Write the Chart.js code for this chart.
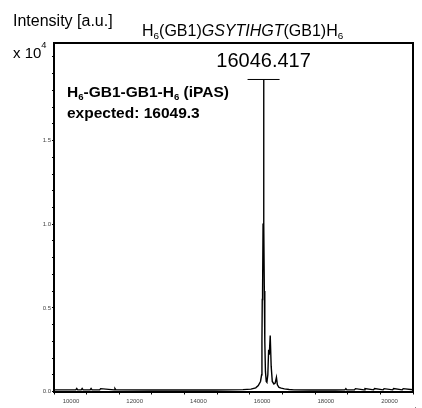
<!DOCTYPE html>
<html>
<head>
<meta charset="utf-8">
<script src="https://cdn.jsdelivr.net/npm/chart.js@4"></script>
<style>
  html, body { margin: 0; padding: 0; background: #fff; }
  #wrap { width: 422px; height: 408px; position: relative; }
</style>
</head>
<body>
<div id="wrap"><canvas id="spectrum"></canvas></div>
<script>
// MALDI spectrum, intensity in units of 10^4
const massValues = [
  9466, 9800, 10000, 10150, 10180, 10210, 10320, 10350, 10380, 10600, 10630, 10660,
  10900, 10930, 11350, 11380, 11410, 12500, 13500, 14500, 15000, 15400, 15650,
  15800, 15880, 15950, 15985, 15995, 16005, 16015, 16030, 16046, 16058, 16070,
  16085, 16105, 16130, 16150, 16180, 16205, 16225, 16255, 16285, 16320, 16370,
  16410, 16450, 16480, 16530, 16600, 16700, 16850, 17000, 17500, 18300, 18600,
  18630, 18660, 18900, 18930, 19200, 19230, 19500, 19530, 19800, 19830, 20100,
  20130, 20400, 20430, 20738
];
const intensity = [
  0.010, 0.010, 0.010, 0.010, 0.018, 0.010, 0.010, 0.018, 0.010, 0.010, 0.018, 0.010,
  0.010, 0.017, 0.010, 0.018, 0.010, 0.009, 0.009, 0.009, 0.010, 0.011, 0.014,
  0.022, 0.035, 0.060, 0.100, 0.300, 0.550, 0.600, 1.000, 1.862, 1.000, 0.600,
  0.300, 0.120, 0.060, 0.055, 0.100, 0.250, 0.220, 0.335, 0.150, 0.060, 0.045,
  0.050, 0.085, 0.040, 0.025, 0.020, 0.016, 0.012, 0.010, 0.009, 0.009, 0.010,
  0.017, 0.010, 0.010, 0.017, 0.010, 0.017, 0.010, 0.018, 0.010, 0.017, 0.010,
  0.018, 0.010, 0.017, 0.010
];
const xTickLabels = ["10000", "12000", "14000", "16000", "18000", "20000"];
const yTickLabels = ["0.0", "0.5", "1.0", "1.5"];
const peakMass = 16046;
const peakIntensity = 1.862;
const peakLabel = "16046.417";

const FONT = '"Liberation Sans", Arial, Helvetica, sans-serif';

function font(size, bold, italic) {
  return `${italic ? "italic " : ""}${bold ? "bold " : ""}${size}px ${FONT}`;
}

// draws a run of text pieces with sub/superscripts
function richText(ctx, x, y, parts, size, bold) {
  let cx = x;
  parts.forEach((p) => {
    const s = p.sub || p.sup ? size * 0.62 : size;
    const dy = p.sub ? size * 0.18 : p.sup ? -size * 0.7 : 0;
    ctx.font = font(s, bold, p.it);
    ctx.fillText(p.t, cx, y + dy);
    cx += ctx.measureText(p.t).width;
  });
}

const frameAndText = {
  id: "frameAndText",
  afterDraw(chart) {
    const { ctx, chartArea: a, scales } = chart;
    ctx.save();
    ctx.strokeStyle = "#000";
    ctx.lineWidth = 2;
    ctx.beginPath();
    ctx.moveTo(a.left, a.top);
    ctx.lineTo(a.right, a.top);
    ctx.lineTo(a.right, a.bottom);
    ctx.stroke();

    // mass tick labels
    ctx.fillStyle = "#444";
    ctx.font = font(6);
    ctx.textAlign = "center";
    ctx.textBaseline = "middle";
    xTickLabels.forEach((t) => {
      ctx.fillText(t, scales.x.getPixelForValue(Number(t)), a.bottom + 9.5);
    });

    ctx.fillStyle = "#000";
    ctx.textBaseline = "alphabetic";
    ctx.textAlign = "left";
    ctx.font = font(16);
    ctx.fillText("Intensity [a.u.]", 13, 26);

    richText(ctx, 142, 36, [
      { t: "H" }, { t: "6", sub: true }, { t: "(GB1)" }, { t: "GSYTIHGT", it: true },
      { t: "(GB1)" }, { t: "H" }, { t: "6", sub: true },
    ], 16);

    richText(ctx, 13, 58, [{ t: "x 10" }, { t: "4", sup: true }], 15);

    richText(ctx, 67, 97, [
      { t: "H" }, { t: "6", sub: true }, { t: "-GB1-GB1-H" }, { t: "6", sub: true }, { t: " (iPAS)" },
    ], 15.5, true);
    ctx.font = font(15.5, true);
    ctx.fillText("expected: 16049.3", 67, 118);

    // peak marker
    const px = scales.x.getPixelForValue(peakMass);
    const py = scales.y.getPixelForValue(peakIntensity) - 1;
    ctx.lineWidth = 1;
    ctx.beginPath();
    ctx.moveTo(px - 16, py + 0.5);
    ctx.lineTo(px + 16, py + 0.5);
    ctx.stroke();
    ctx.textAlign = "center";
    ctx.font = font(20);
    ctx.fillText(peakLabel, px, py - 12);

    ctx.textAlign = "left";
    ctx.font = font(8);
    ctx.fillStyle = "#333";
    ctx.fillText("m/z", 407, 412);
    ctx.restore();
  },
};

new Chart(document.getElementById("spectrum"), {
  type: "line",
  data: {
    datasets: [{
      data: massValues.map((m, i) => ({ x: m, y: intensity[i] })),
      borderColor: "#000",
      borderWidth: 1.4,
      pointRadius: 0,
      tension: 0,
      fill: false,
    }],
  },
  options: {
    responsive: true,
    maintainAspectRatio: false,
    animation: false,
    layout: { padding: { top: 43, right: 9, left: 0, bottom: 0 } },
    plugins: { legend: { display: false }, tooltip: { enabled: false } },
    scales: {
      x: {
        type: "linear",
        min: 9466,
        max: 20738,
        afterFit: (s) => { s.height = 16.5; },
        grid: { display: true, drawOnChartArea: false, drawTicks: true, tickLength: 3, color: "#000" },
        border: { display: true, color: "#000", width: 2 },
        ticks: {
          display: false,
          stepSize: 1000,
          maxTicksLimit: 100,
          includeBounds: false,
          autoSkip: false,
          maxRotation: 0,
        },
      },
      y: {
        min: 0,
        max: 2.083,
        afterFit: (s) => { s.width = 54; },
        grid: { display: true, drawOnChartArea: false, drawTicks: true, tickLength: 2, color: "#000" },
        border: { display: true, color: "#000", width: 2 },
        ticks: {
          stepSize: 0.1,
          maxTicksLimit: 100,
          includeBounds: false,
          autoSkip: false,
          padding: 1,
          color: "#444",
          font: { size: 6, family: FONT },
          callback: (v) => {
            const s = v.toFixed(1);
            return Math.abs(v * 10 - Math.round(v * 10)) < 1e-6 && yTickLabels.includes(s) ? s : "";
          },
        },
      },
    },
  },
  plugins: [frameAndText],
});
</script>
</body>
</html>
